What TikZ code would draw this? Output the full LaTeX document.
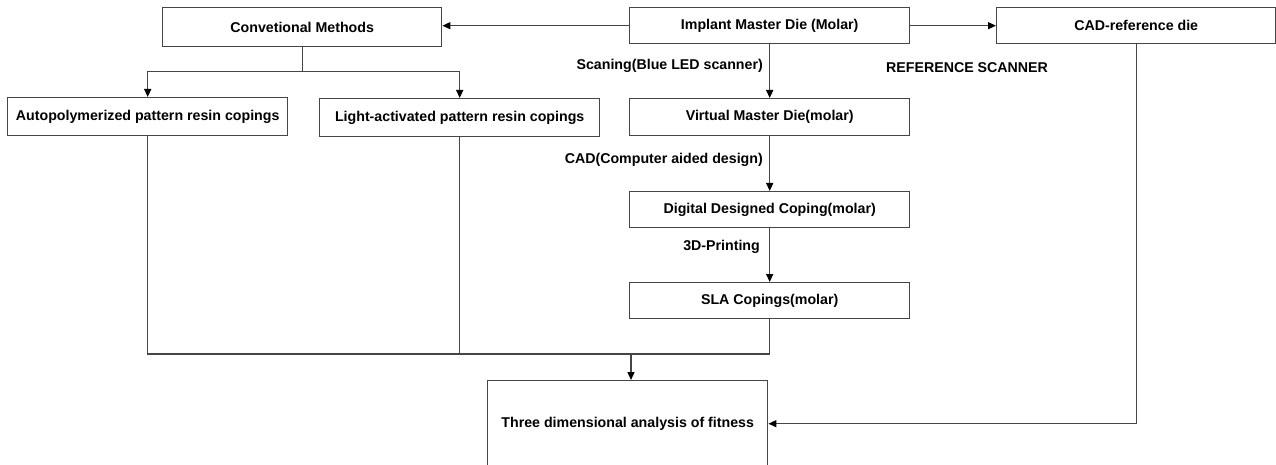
\documentclass[tikz,border=0pt]{standalone}
\usepackage{fontspec}
\setmainfont{Liberation Sans}
\usetikzlibrary{arrows.meta}
\definecolor{edgegray}{HTML}{454545}
\begin{document}
\begin{tikzpicture}[x=1pt,y=-1pt,
  txt/.style={font=\bfseries\fontsize{14.2}{17}\selectfont},
  box/.style={txt, draw=edgegray, line width=1.4pt, inner sep=0pt, anchor=north west},
  lbl/.style={txt, inner sep=0pt},
  conn/.style={draw=edgegray, line width=1.4pt},
  arr/.style={conn, -{Triangle[width=7pt,length=8pt,color=black]}}]
\useasboundingbox (0,0) rectangle (1276,465);
\clip (0,0) rectangle (1276,465);

% boxes
\node[box, minimum width=279pt, minimum height=39pt] (conv) at (162,7) {Convetional Methods};
\node[box, minimum width=280pt, minimum height=36pt] (implant) at (629,7) {Implant Master Die (Molar)};
\node[box, minimum width=279pt, minimum height=36pt] (cad) at (996,7) {CAD-reference die};
\node[box, minimum width=280pt, minimum height=38pt] (auto) at (7,97) {Autopolymerized pattern resin copings};
\node[box, minimum width=280pt, minimum height=38pt] (light) at (319,98) {Light-activated pattern resin copings};
\node[box, minimum width=280pt, minimum height=37pt] (virtual) at (629,98) {Virtual Master Die(molar)};
\node[box, minimum width=280pt, minimum height=36pt] (digital) at (629,191) {Digital Designed Coping(molar)};
\node[box, minimum width=280pt, minimum height=36pt] (sla) at (629,282) {SLA Copings(molar)};
\node[box, minimum width=280pt, minimum height=86pt] (fit) at (487,380) {Three dimensional analysis of fitness};

% step labels
\node[lbl, anchor=east] (scan) at (763,66) {Scaning(Blue LED scanner)};
\node[lbl, anchor=west] (refscan) at (886,68) {REFERENCE SCANNER};
\node[lbl, anchor=east] (cadlbl) at (763,160) {CAD(Computer aided design)};
\node[lbl, anchor=east] (print) at (760,247) {3D-Printing};

% top row
\draw[arr] (implant.west) -- (conv.east |- implant.west);
\draw[arr] (implant.east) -- (cad.west);

% conventional branch
\draw[conn] (conv.south) -- ++(0,24) coordinate (split);
\draw[arr] (split) -| (auto.north);
\draw[arr] (split) -| (light.north);

% digital workflow
\draw[arr] (implant.south) -- (virtual.north);
\draw[arr] (virtual.south) -- (digital.north);
\draw[arr] (digital.south) -- (sla.north);

% merge into the analysis
\coordinate (join) at (631,354);
\draw[conn] (auto.south) |- (sla.south |- join) -- (sla.south);
\draw[conn] (light.south) -- (light.south |- join);
\draw[arr] (join) -- (join |- fit.north);
\draw[arr] (cad.south) |- (fit.east);
\end{tikzpicture}
\end{document}
